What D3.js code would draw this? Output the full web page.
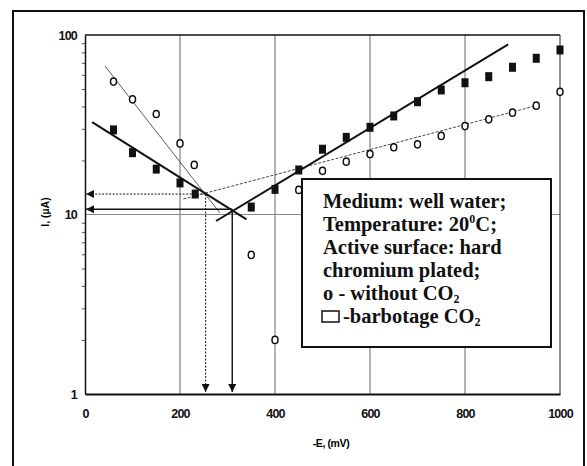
<!DOCTYPE html>
<html>
<head>
<meta charset="utf-8">
<script src="https://cdn.jsdelivr.net/npm/d3@7"></script>
<style>
  body { margin: 0; background: #fff; }
  svg { display: block; }
  .tick text { font-family: "Liberation Sans", Arial, sans-serif; font-size: 12.5px; font-weight: bold; letter-spacing: -0.8px; fill: #111; }
  .legend text { font-family: "Liberation Serif", "Times New Roman", serif; font-size: 20.5px; font-weight: bold; fill: #111; }
</style>
</head>
<body>
<div class="visHolder"></div>
<script>
// -E (mV) values for the two series
const eNoCO2 = [60, 100, 150, 200, 230, 350, 400, 450, 500, 550, 600, 650, 700, 750, 800, 850, 900, 950, 1000];
const iNoCO2 = [55, 43.8, 36.3, 24.9, 18.9, 5.95, 2.0, 13.7, 17.5, 19.7, 21.7, 23.7, 24.6, 27.4, 31.1, 33.9, 36.9, 40.4, 48.3];

const eCO2 = [60, 100, 150, 200, 232, 350, 400, 450, 500, 550, 600, 650, 700, 750, 800, 850, 900, 950, 1000];
const iCO2 = [29.6, 22.1, 17.9, 15.0, 13.0, 11.0, 13.8, 17.7, 23.1, 26.9, 30.6, 35.4, 42.5, 49.4, 54.2, 58.6, 66.1, 74.2, 82.5];

// Tafel lines (endpoints, [E, I])
const tafelCathNoCO2 = [[42, 67.2], [284, 10.2]];
const tafelCathCO2 = [[15, 32.7], [340, 9.4]];
const tafelAnodNoCO2 = [[207, 12.2], [947, 40.2]];
const tafelAnodCO2 = [[276, 9.2], [891, 88.7]];

const corrNoCO2 = [254, 13.0];
const corrCO2 = [310, 10.7];

const xTicks = [0, 200, 400, 600, 800, 1000];
const yTicks = [1, 10, 100];
const yMinor = [2, 3, 4, 5, 6, 7, 8, 9, 20, 30, 40, 50, 60, 70, 80, 90];
const gridX = [200, 400, 600, 800];

const legendLines = [
  'Medium: well water;',
  'Temperature: 20|0|C;',
  'Active surface: hard',
  'chromium plated;',
  'o - without CO|2|',
  '-barbotage CO|2|'
];

const w = 587, h = 466;

const svg = d3.select('.visHolder')
  .append('svg')
  .attr('width', w)
  .attr('height', h);

// outer frame
svg.append('rect')
  .attr('x', 13).attr('y', 11)
  .attr('width', 571).attr('height', 470)
  .attr('fill', 'none')
  .attr('stroke', '#111')
  .attr('stroke-width', 2);

const xScale = d3.scaleLinear().domain([0, 1000]).range([85, 560]);
const yScale = d3.scaleLog().domain([1, 100]).range([394, 35]);

const defs = svg.append('defs');
defs.append('marker')
  .attr('id', 'arr')
  .attr('viewBox', '0 0 10 10')
  .attr('refX', 10).attr('refY', 5)
  .attr('markerWidth', 8).attr('markerHeight', 8)
  .attr('markerUnits', 'userSpaceOnUse')
  .attr('orient', 'auto')
  .append('path')
  .attr('d', 'M0,0 L10,5 L0,10 Z')
  .attr('fill', '#111');

// grid
svg.append('g')
  .selectAll('line')
  .data(gridX)
  .join('line')
  .attr('x1', d => xScale(d)).attr('x2', d => xScale(d))
  .attr('y1', yScale(100)).attr('y2', yScale(1))
  .attr('stroke', '#666')
  .attr('stroke-width', 1);

svg.append('line')
  .attr('x1', xScale(0)).attr('x2', xScale(1000))
  .attr('y1', yScale(10)).attr('y2', yScale(10))
  .attr('stroke', '#888')
  .attr('stroke-width', 1);

// plot frame
svg.append('line')
  .attr('x1', xScale(0)).attr('x2', xScale(1000))
  .attr('y1', yScale(100)).attr('y2', yScale(100))
  .attr('stroke', '#111').attr('stroke-width', 1.5);
svg.append('line')
  .attr('x1', xScale(1000)).attr('x2', xScale(1000))
  .attr('y1', yScale(100)).attr('y2', yScale(1))
  .attr('stroke', '#222').attr('stroke-width', 1);

// axes
const xAxis = d3.axisBottom(xScale).tickValues(xTicks).tickSize(0).tickPadding(15).tickFormat(d3.format('d'));
const yAxis = d3.axisLeft(yScale).tickValues(yTicks).tickSize(0).tickPadding(8).tickFormat(d3.format('d'));
const yMinorAxis = d3.axisLeft(yScale).tickValues(yMinor).tickSize(3).tickFormat('');

svg.append('g')
  .attr('transform', `translate(0, ${yScale(1)})`)
  .call(xAxis)
  .call(g => g.select('.domain').attr('stroke', '#111').attr('stroke-width', 2.2));

svg.append('g')
  .attr('transform', `translate(${xScale(0)}, 0)`)
  .call(yMinorAxis)
  .call(g => g.select('.domain').remove())
  .call(g => g.selectAll('line').attr('stroke', '#555'));

svg.append('g')
  .attr('transform', `translate(${xScale(0)}, 0)`)
  .call(yAxis)
  .call(g => g.select('.domain').attr('stroke', '#111').attr('stroke-width', 1.5));

// axis titles
svg.append('text')
  .attr('x', 331).attr('y', 447)
  .attr('text-anchor', 'middle')
  .style('font-family', '"Liberation Sans", Arial, sans-serif')
  .style('font-size', '10.5px').style('font-weight', 'bold')
  .style('letter-spacing', '-0.4px')
  .text('-E, (mV)');

svg.append('text')
  .attr('transform', 'translate(49, 212) rotate(-90)')
  .attr('text-anchor', 'middle')
  .style('font-family', '"Liberation Sans", Arial, sans-serif')
  .style('font-size', '10.5px').style('font-weight', 'bold')
  .text('I, (µA)');

// Tafel lines
const line = d3.line().x(d => xScale(d[0])).y(d => yScale(d[1]));
svg.append('path').datum(tafelCathNoCO2).attr('d', line)
  .attr('stroke', '#333').attr('stroke-width', 0.8).attr('fill', 'none');
svg.append('path').datum(tafelAnodNoCO2).attr('d', line)
  .attr('stroke', '#333').attr('stroke-width', 0.9).attr('stroke-dasharray', '3,1.5').attr('fill', 'none');
svg.append('path').datum(tafelCathCO2).attr('d', line)
  .attr('stroke', '#111').attr('stroke-width', 2).attr('fill', 'none');
svg.append('path').datum(tafelAnodCO2).attr('d', line)
  .attr('stroke', '#111').attr('stroke-width', 2).attr('fill', 'none');

// arrows from intersections
const arrows = [
  { p: corrNoCO2, dash: '2,1.5', sw: 1 },
  { p: corrCO2, dash: null, sw: 1.4 }
];
arrows.forEach(a => {
  svg.append('line')
    .attr('x1', xScale(a.p[0])).attr('y1', yScale(a.p[1]))
    .attr('x2', xScale(0) + 1).attr('y2', yScale(a.p[1]))
    .attr('stroke', '#111').attr('stroke-width', a.sw)
    .attr('stroke-dasharray', a.dash)
    .attr('marker-end', 'url(#arr)');
  svg.append('line')
    .attr('x1', xScale(a.p[0])).attr('y1', yScale(a.p[1]))
    .attr('x2', xScale(a.p[0])).attr('y2', yScale(1) - 2)
    .attr('stroke', '#111').attr('stroke-width', a.sw)
    .attr('stroke-dasharray', a.dash)
    .attr('marker-end', 'url(#arr)');
});

// data points
svg.append('g')
  .selectAll('rect')
  .data(eCO2.map((e, i) => [e, iCO2[i]]))
  .join('rect')
  .attr('x', d => xScale(d[0]) - 3.5)
  .attr('y', d => yScale(d[1]) - 4.5)
  .attr('width', 7).attr('height', 9)
  .attr('fill', '#111');

svg.append('g')
  .selectAll('ellipse')
  .data(eNoCO2.map((e, i) => [e, iNoCO2[i]]))
  .join('ellipse')
  .attr('cx', d => xScale(d[0]))
  .attr('cy', d => yScale(d[1]))
  .attr('rx', 3).attr('ry', 3.6)
  .attr('fill', '#fff')
  .attr('stroke', '#111')
  .attr('stroke-width', 1.5);

// legend box
const lg = svg.append('g').attr('class', 'legend');
lg.append('rect')
  .attr('x', 302).attr('y', 179)
  .attr('width', 249).attr('height', 168)
  .attr('fill', '#fff')
  .attr('stroke', '#111')
  .attr('stroke-width', 2);

legendLines.forEach((s, i) => {
  const parts = s.split('|');
  const isLast = i === legendLines.length - 1;
  const t = lg.append('text')
    .attr('x', isLast ? 343 : 323)
    .attr('y', 208 + i * 23);
  parts.forEach((p, j) => {
    if (!p) return;
    const ts = t.append('tspan').text(p);
    if (j === 1) {
      const sup = s.includes('20|0');
      ts.style('font-size', '12px').attr('dy', sup ? -8 : 2.5);
    } else if (j === 2) {
      ts.attr('dy', 8);
    }
  });
});
lg.append('rect')
  .attr('x', 322).attr('y', 311)
  .attr('width', 17).attr('height', 11)
  .attr('fill', '#fff')
  .attr('stroke', '#111')
  .attr('stroke-width', 1.5);
</script>
</body>
</html>
